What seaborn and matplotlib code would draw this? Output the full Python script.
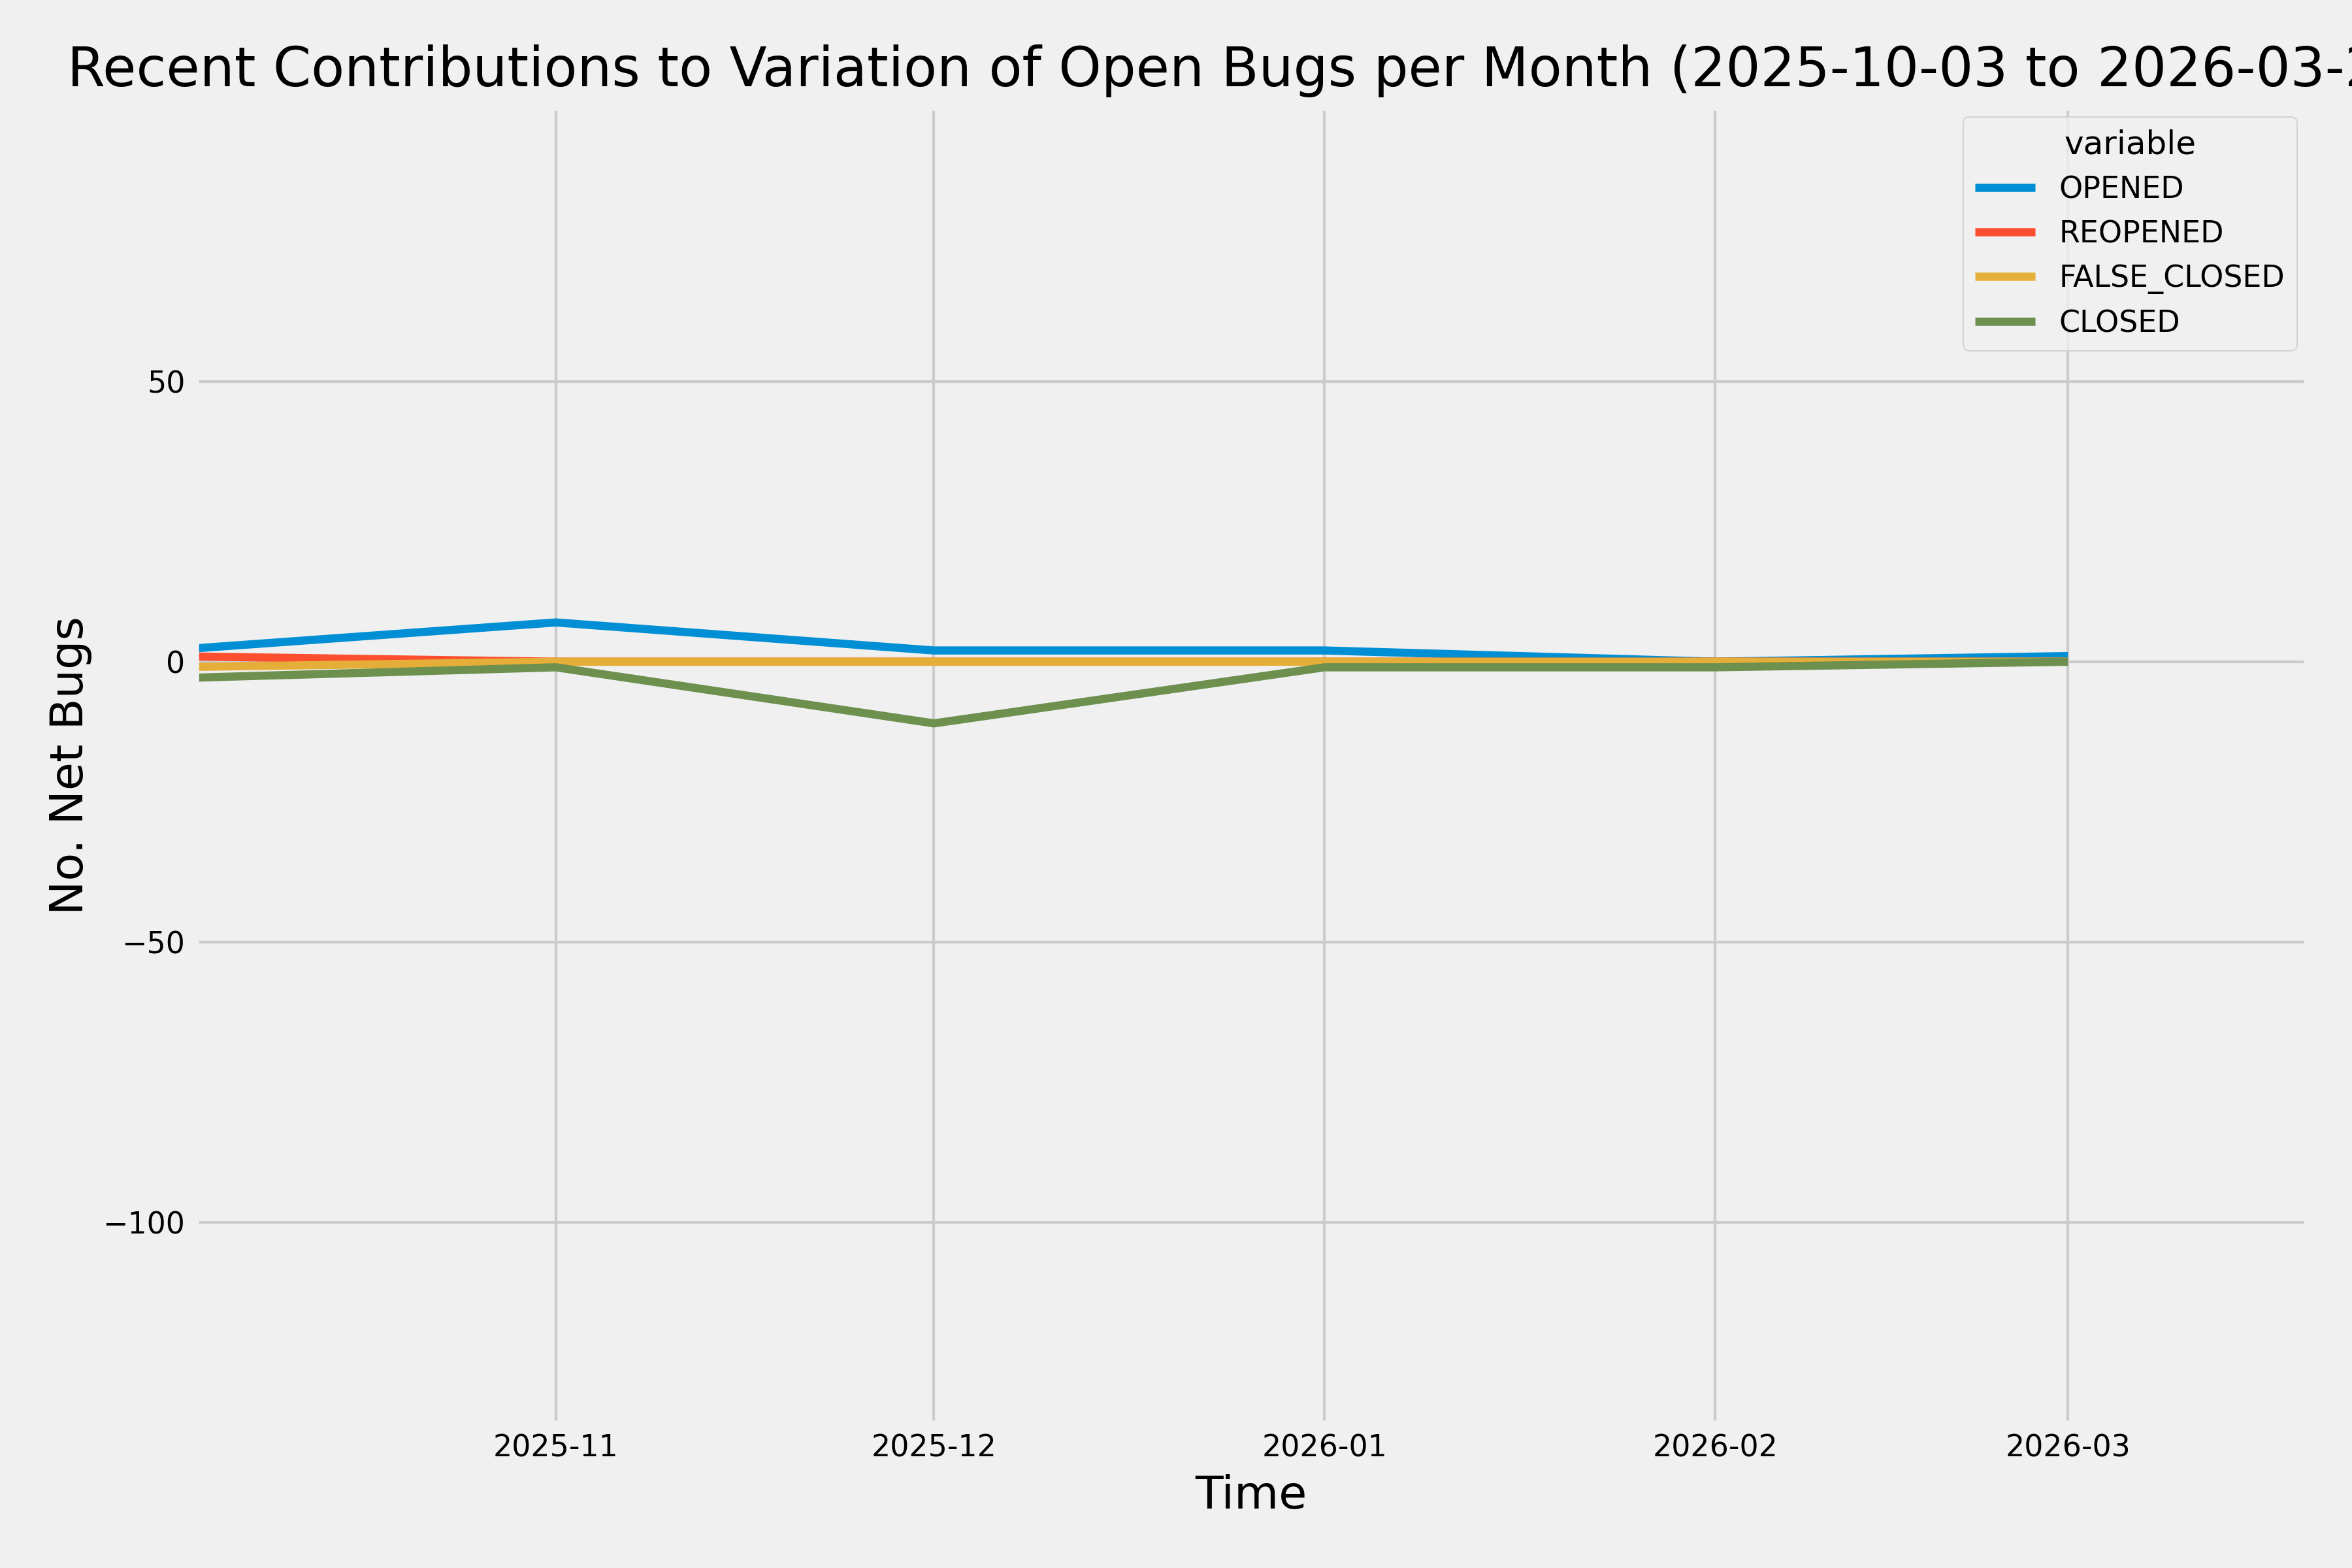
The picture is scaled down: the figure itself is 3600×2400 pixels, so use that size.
import datetime

import matplotlib.pyplot as plt
import pandas as pd
import seaborn as sns

months = ["2025-10-01", "2025-11-01", "2025-12-01", "2026-01-01", "2026-02-01", "2026-03-01"]
opened = [2, 7, 2, 2, 0, 1]
reopened = [1, 0, 0, 0, 0, 0]
false_closed = [-1, 0, 0, 0, 0, 0]
closed = [-3, -1, -11, -1, -1, 0]

start = datetime.datetime(2025, 10, 3, 8)
end = datetime.datetime(2026, 3, 20)

plt.style.use("fivethirtyeight")
plt.rcParams.update(
    {
        "xtick.labelsize": 11,
        "ytick.labelsize": 11,
        "legend.fontsize": 11,
        "legend.title_fontsize": 12,
        "axes.labelsize": 16.8,
        "axes.titlesize": 20,
    }
)

df = pd.DataFrame(
    {
        "Time": pd.to_datetime(months),
        "OPENED": opened,
        "REOPENED": reopened,
        "FALSE_CLOSED": false_closed,
        "CLOSED": closed,
    }
)
data = df.melt(id_vars="Time", var_name="variable", value_name="value")

fig, ax = plt.subplots(figsize=(12, 8))
fig.subplots_adjust(left=0.0828, right=0.981, bottom=0.0917, top=0.932)

sns.lineplot(data=data, x="Time", y="value", hue="variable", linewidth=3, ax=ax)

ax.set_xlim(start, end)
ax.set_ylim(-136, 99)
ax.set_xlabel("Time")
ax.set_ylabel("No. Net Bugs")
ax.set_title(
    "Recent Contributions to Variation of Open Bugs per Month "
    "(2025-10-03 to 2026-03-20)",
    pad=7.5,
)
ax.legend(title="variable", loc="upper right", borderaxespad=0.35)

fig.savefig("out.png", dpi=300)
